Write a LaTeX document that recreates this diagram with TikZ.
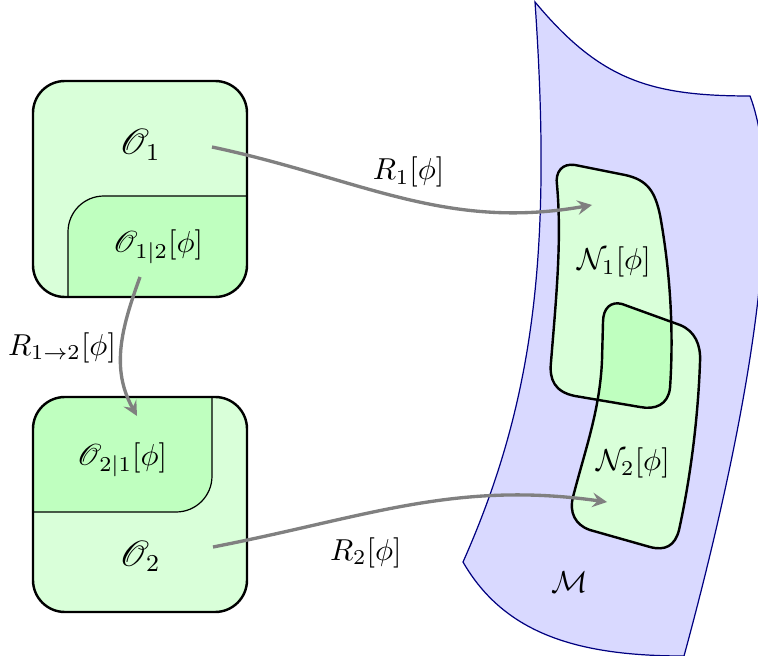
\documentclass[tikz,border=0pt]{standalone}
\usepackage{amsmath}
\usepackage{mathrsfs}
\usetikzlibrary{arrows}

\tikzset{
  patch/.style={draw=black, thick, fill=green!15},
  overlap/.style={fill=green!25},
  map/.style={->, gray, line width=1.1pt, -stealth, text=black},
}

\begin{document}
\begin{tikzpicture}[x=0.0116cm, y=-0.0116cm]
        \useasboundingbox (0,0) rectangle (758,656);
        % the manifold M
        \draw[blue!50!black, fill=blue!15] (535,2) .. controls (600,80) and (650,96) .. (750,96)
            .. controls (790,200) and (740,450) .. (684,656)
            .. controls (580,656) and (505,635) .. (463,562)
            .. controls (535,400) and (552,250) .. (535,2) -- cycle;
        % upper box O_1 with O_{1|2}
        \fill[green!15, rounded corners=0.37cm] (33,81) rectangle (247,297);
        \begin{scope}
            \clip[rounded corners=0.37cm] (33,81) rectangle (247,297);
            \draw[thin, overlap] (68,310) -- (68,232) .. controls (68,212) and (84,196) .. (104,196) -- (260,196) -- (260,310) -- cycle;
        \end{scope}
        \draw[thick, rounded corners=0.37cm] (33,81) rectangle (247,297);
        % lower box O_2 with O_{2|1}
        \fill[green!15, rounded corners=0.37cm] (33,397) rectangle (247,612);
        \begin{scope}
            \clip[rounded corners=0.37cm] (33,397) rectangle (247,612);
            \draw[thin, overlap] (20,385) -- (212,385) -- (212,476) .. controls (212,496) and (196,512) .. (176,512) -- (20,512) -- cycle;
        \end{scope}
        \draw[thick, rounded corners=0.37cm] (33,397) rectangle (247,612);
        % patches N_1 and N_2
        \def\patchone{(575,165) -- (625,175) .. controls (648,180) and (655,192) .. (660,215)
            .. controls (670,270) and (674,330) .. (670,388)
            .. controls (668,405) and (655,410) .. (640,407) -- (575,396)
            .. controls (555,392) and (549,380) .. (551,362)
            .. controls (556,300) and (562,240) .. (557,185)
            .. controls (555,172) and (562,163) .. (575,165) -- cycle}
        \def\patchtwo{(622,304) -- (680,325) .. controls (695,331) and (701,345) .. (700,362)
            .. controls (698,420) and (690,480) .. (679,530)
            .. controls (675,546) and (665,551) .. (650,547) -- (590,530)
            .. controls (575,525) and (569,512) .. (573,497)
            .. controls (585,450) and (600,410) .. (602,360) -- (603,322)
            .. controls (603,308) and (611,301) .. (622,304) -- cycle}
        \fill[green!15] \patchone;
        \fill[green!15] \patchtwo;
        \begin{scope}
            \clip \patchone;
            \fill[overlap] \patchtwo;
        \end{scope}
        \draw[thick] \patchone;
        \draw[thick] \patchtwo;
        % labels
        \node (O1) at (140,145) {\large$\mathscr{O}_1$};
        \node (O12) at (158,247) {$\mathscr{O}_{1|2}[\phi]$};
        \node (O21) at (122,460) {$\mathscr{O}_{2|1}[\phi]$};
        \node (O2) at (140,556) {\large$\mathscr{O}_2$};
        \node (N1) at (614,262) {$\mathcal{N}_1[\phi]$};
        \node (N2) at (633,463) {$\mathcal{N}_2[\phi]$};
        \node (M) at (570,582) {$\mathcal{M}$};
        % end points of the maps
        \coordinate (r1s) at (212,147);
        \coordinate (r1e) at (592,205);
        \coordinate (r2s) at (213,547);
        \coordinate (r2e) at (607,502);
        \coordinate (r12s) at (140,277);
        \coordinate (r12e) at (137,416);
        \draw[map] (r1s) to[out=-12, in=190] node[pos=0.52, above=0pt]{$R_1[\phi]$} (r1e);
        \draw[map] (r2s) to[out=11, in=172] node[pos=0.38, below=4pt]{$R_2[\phi]$} (r2e);
        \draw[map] (r12s) to[out=-110, in=119] node[pos=0.5, left=-2pt]{$R_{1\to2}[\phi]$} (r12e);
    \end{tikzpicture}
\end{document}
